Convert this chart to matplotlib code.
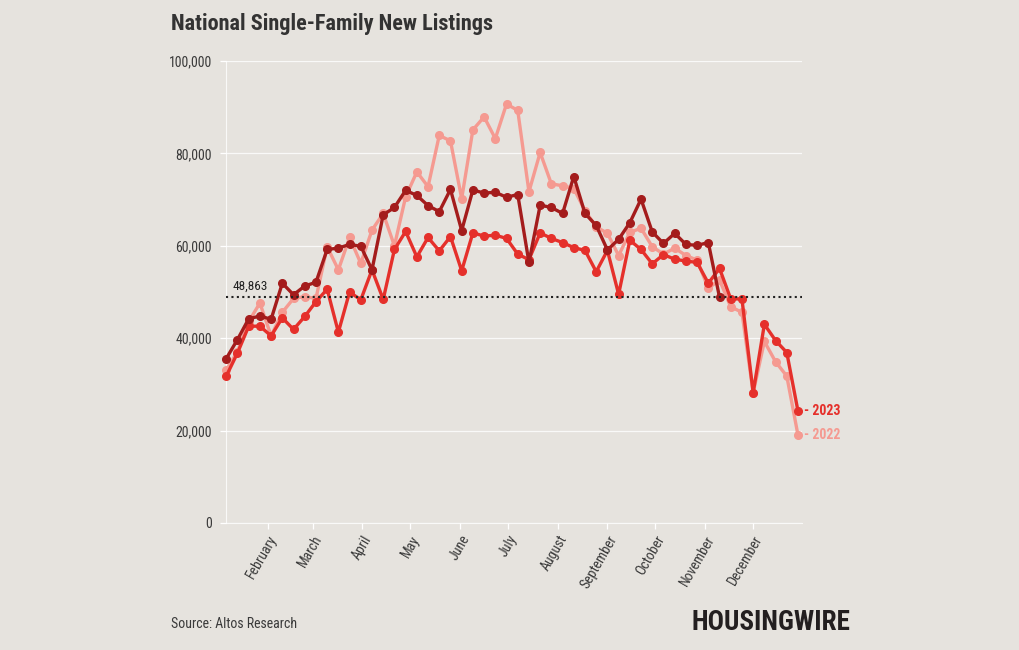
import pandas as pd
import matplotlib
matplotlib.use("Agg")
import matplotlib.pyplot as plt
import matplotlib.dates as mdates
from matplotlib import font_manager
from matplotlib.ticker import FuncFormatter

# pick a narrow font if one is there
names = {f.name for f in font_manager.fontManager.ttflist}
font = "Roboto"
for cand in ["Roboto Condensed", "Liberation Sans Narrow", "DejaVu Sans Condensed"]:
    if cand in names:
        font = cand
        break
plt.rcParams['font.family'] = [font, 'DejaVu Sans']

# weekly points through the year
weeks = pd.date_range("2023-01-06", periods=52, freq="7D")

listings_2022 = [33100, 37100, 43600, 47600, 40500, 45600, 48600, 49000, 48600, 59800,
                 54800, 61800, 56200, 63400, 67000, 60000, 70600, 76000, 72800, 83900,
                 82700, 70200, 85100, 87900, 83200, 90700, 89300, 71700, 80200, 73400,
                 73000, 72400, 67600, 64100, 62700, 57900, 62900, 63800, 59800, 58200,
                 59500, 57900, 56900, 50800, 52600, 46800, 45600, 28200, 39300, 34900,
                 31800, 19000]
listings_2023 = [31800, 36800, 42600, 42600, 40500, 44400, 41900, 44700, 47900, 50600,
                 41300, 50000, 48300, 54800, 48400, 59200, 63100, 57600, 61800, 58900,
                 62000, 54600, 62800, 62100, 62300, 61600, 58200, 57000, 62800, 61600,
                 60700, 59600, 59000, 54400, 59000, 49500, 61200, 59200, 56100, 58100,
                 57100, 56700, 56400, 51900, 55100, 48500, 48500, 28200, 43000, 39500,
                 36900, 24200]
listings_2024 = [35600, 39700, 44200, 44800, 44100, 51900, 49400, 51300, 52100, 59200,
                 59500, 60300, 59900, 54800, 66700, 68300, 72000, 70900, 68700, 67400,
                 72200, 63300, 72100, 71400, 71600, 70500, 71100, 56400, 68800, 68300,
                 67000, 75000, 67000, 64400, 59100, 61400, 65000, 70100, 63000, 60500,
                 62700, 60300, 60100, 60700, 48863]
latest = 48863

bg = "#e6e3de"
c22 = "#f59a91"
c23 = "#e5302b"
c24 = "#a41c1c"
txt = "#3a3a3a"

fig = plt.figure(figsize=(10.2, 6.5), dpi=100, facecolor=bg)
ax = fig.add_axes([226 / 1020, 1 - 523 / 650, 576 / 1020, 462 / 650], facecolor=bg)

ax.plot(weeks, listings_2022, color=c22, lw=2.4, marker="o", ms=5.5, clip_on=False, zorder=3)
ax.plot(weeks, listings_2023, color=c23, lw=2.4, marker="o", ms=5.5, clip_on=False, zorder=4)
ax.plot(weeks[:len(listings_2024)], listings_2024, color=c24, lw=2.4, marker="o", ms=5.5,
        clip_on=False, zorder=5)

# latest value line
ax.axhline(latest, color="#222222", lw=1.5, ls=(0, (1, 1.6)), zorder=6)
ax.annotate(f"{latest:,}", xy=(0, latest), xycoords=("axes fraction", "data"),
            xytext=(5, 3), textcoords="offset points", fontsize=9.5, color="#222222",
            va="bottom")

# end labels
ax.annotate("- 2023", xy=(weeks[-1], listings_2023[-1]), xytext=(4, 0),
            textcoords="offset points", color=c23, fontsize=10, fontweight="bold",
            va="center", annotation_clip=False)
ax.annotate("- 2022", xy=(weeks[-1], listings_2022[-1]), xytext=(4, 0),
            textcoords="offset points", color=c22, fontsize=10, fontweight="bold",
            va="center", annotation_clip=False)

ax.set_ylim(0, 100000)
ax.set_xlim(pd.Timestamp("2023-01-05 20:00"), pd.Timestamp("2023-12-31 12:00"))
ax.set_yticks(range(0, 100001, 20000))
ax.yaxis.set_major_formatter(FuncFormatter(lambda v, p: f"{int(v):,}"))
ax.xaxis.set_major_locator(mdates.MonthLocator(bymonth=range(2, 13)))
ax.xaxis.set_major_formatter(mdates.DateFormatter("%B"))

ax.grid(axis="y", color="white", lw=0.9, alpha=0.8)
ax.set_axisbelow(True)
for s in ["top", "right"]:
    ax.spines[s].set_visible(False)
for s in ["left", "bottom"]:
    ax.spines[s].set_color("white")
    ax.spines[s].set_alpha(0.8)
ax.tick_params(axis="both", colors="white", length=4, width=0.9)
ax.tick_params(axis="y", labelcolor=txt, labelsize=10, pad=6)
ax.tick_params(axis="x", labelcolor=txt, labelsize=10, pad=3)
for lab in ax.get_xticklabels():
    lab.set_rotation(60)
    lab.set_ha("right")
    lab.set_rotation_mode("anchor")

fig.text(171 / 1020, 1 - 24 / 650, "National Single-Family New Listings", fontsize=16,
         fontweight="bold", color="#333333", va="center")
fig.text(171 / 1020, 1 - 624 / 650, "Source: Altos Research", fontsize=10, color=txt,
         va="center")
fig.text(850 / 1020, 1 - 622 / 650, "HOUSINGWIRE", fontsize=19.5, fontweight="black",
         color="#231f20", va="center", ha="right")

fig.savefig("out.png", dpi=100, facecolor=bg)
